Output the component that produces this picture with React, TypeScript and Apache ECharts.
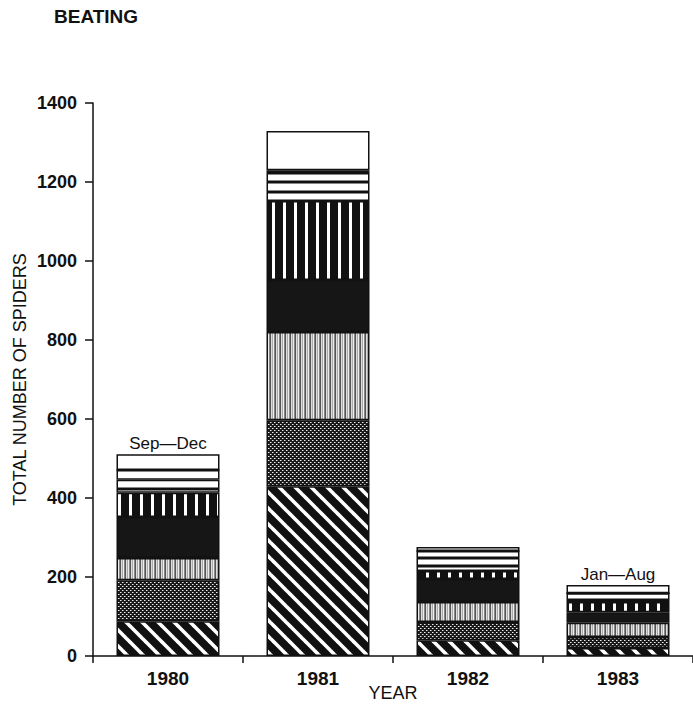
import React, { useEffect, useRef } from "react";
import * as echarts from "echarts";

// ---- data ----
const years = ["1980", "1981", "1982", "1983"];
const periodLabels = ["Sep\u2014Dec", "", "", "Jan\u2014Aug"];
const yTicks = [0, 200, 400, 600, 800, 1000, 1200, 1400];

const groupDiagonal = [88, 430, 40, 20];
const groupDotted = [104, 167, 46, 28];
const groupFineLines = [56, 223, 51, 36];
const groupSolid = [104, 132, 58, 27];
const groupBars = [61, 200, 20, 26];
const groupWhite1 = [10, 23, 13, 5];
const groupWhite2 = [23, 25, 20, 17];
const groupWhite3 = [25, 23, 18, 0];
const groupWhite4 = [0, 7, 0, 0];
const groupWhite5 = [40, 99, 10, 21];

const FONT = "'Liberation Sans', Arial, Helvetica, sans-serif";
const INK = "#111";

function makePattern(w: number, h: number, draw: (ctx: CanvasRenderingContext2D) => void) {
  const c = document.createElement("canvas");
  c.width = w;
  c.height = h;
  const ctx = c.getContext("2d") as CanvasRenderingContext2D;
  draw(ctx);
  return { image: c, repeat: "repeat", imageWidth: w, imageHeight: h } as any;
}

export default function App() {
  const ref = useRef<HTMLDivElement>(null);

  useEffect(() => {
    if (!ref.current) return;
    const chart = echarts.init(ref.current, undefined, { renderer: "svg" });

    const diag = makePattern(16, 16, (ctx) => {
      ctx.fillStyle = INK;
      ctx.fillRect(0, 0, 16, 16);
      ctx.strokeStyle = "#fff";
      ctx.lineWidth = 3.6;
      for (const k of [-16, 0, 16]) {
        ctx.beginPath();
        ctx.moveTo(-4 + k, -4);
        ctx.lineTo(20 + k, 20);
        ctx.stroke();
      }
    });
    const dots = makePattern(4, 4, (ctx) => {
      ctx.fillStyle = "#1a1a1a";
      ctx.fillRect(0, 0, 4, 4);
      ctx.fillStyle = "#eee";
      ctx.fillRect(0, 0, 1, 1);
      ctx.fillRect(2, 2, 1, 1);
      ctx.fillStyle = "#888";
      ctx.fillRect(1, 0, 1, 1);
      ctx.fillRect(3, 2, 1, 1);
    });
    const fine = makePattern(5, 2, (ctx) => {
      const cols = ["#555", "#ddd", "#aaa", "#eee", "#888"];
      cols.forEach((c, i) => {
        ctx.fillStyle = c;
        ctx.fillRect(i, 0, 1, 2);
      });
    });
    const bars = makePattern(11, 4, (ctx) => {
      ctx.fillStyle = INK;
      ctx.fillRect(0, 0, 11, 4);
      ctx.fillStyle = "#fff";
      ctx.fillRect(8, 0, 3, 4);
    });

    const base = (name: string, data: any[], color: any) => ({
      name,
      type: "bar",
      stack: "total",
      barWidth: 103,
      data,
      silent: true,
      itemStyle: { color, borderColor: INK, borderWidth: 1.5 },
      emphasis: { disabled: true },
    });

    const topData = groupWhite5.map((v, i) => ({
      value: v,
      label: {
        show: !!periodLabels[i],
        position: "top",
        distance: 2,
        formatter: periodLabels[i] || "",
        color: INK,
        fontFamily: FONT,
        fontSize: 17,
      },
    }));

    chart.setOption({
      animation: false,
      backgroundColor: "#fff",
      title: {
        text: "BEATING",
        left: 49,
        top: 2,
        textStyle: { fontFamily: FONT, fontSize: 19, fontWeight: "bold", color: INK },
      },
      grid: { left: 93, right: 0, top: 103, bottom: 49, containLabel: false, outerBoundsMode: "none" },
      xAxis: {
        type: "category",
        data: years,
        boundaryGap: true,
        name: "YEAR",
        nameLocation: "middle",
        nameGap: 28,
        nameMoveOverlap: false,
        nameTextStyle: { fontFamily: FONT, fontSize: 18, color: INK, verticalAlign: "top" },
        axisLine: { lineStyle: { color: INK, width: 1.5 } },
        axisTick: { show: true, length: 7, lineStyle: { color: INK, width: 1.5 } },
        axisLabel: { fontFamily: FONT, fontSize: 19, fontWeight: "bold", color: INK, margin: 13 },
        splitLine: { show: false },
      },
      yAxis: {
        type: "value",
        min: yTicks[0],
        max: yTicks[yTicks.length - 1],
        interval: yTicks[1] - yTicks[0],
        name: "TOTAL NUMBER OF SPIDERS",
        nameLocation: "middle",
        nameGap: 64,
        nameMoveOverlap: false,
        nameTextStyle: { fontFamily: FONT, fontSize: 18, color: INK },
        axisLine: { show: true, lineStyle: { color: INK, width: 1.5 } },
        axisTick: { show: true, length: 8, lineStyle: { color: INK, width: 1.5 } },
        axisLabel: {
          fontFamily: FONT,
          fontSize: 18,
          fontWeight: "bold",
          color: INK,
          margin: 16,
          formatter: (v: number) => String(v),
        },
        splitLine: { show: false },
      },
      series: [
        base("Group A", groupDiagonal, diag),
        base("Group B", groupDotted, dots),
        base("Group C", groupFineLines, fine),
        base("Group D", groupSolid, "#161616"),
        base("Group E", groupBars, bars),
        base("Group F", groupWhite1, "#fff"),
        base("Group G", groupWhite2, "#fff"),
        base("Group H", groupWhite3, "#fff"),
        base("Group I", groupWhite4, "#fff"),
        base("Others", topData, "#fff"),
      ],
    });

    return () => chart.dispose();
  }, []);

  return (
    <div
      ref={ref}
      style={{ position: "fixed", left: 0, top: 0, width: 693, height: 705, background: "#fff" }}
    />
  );
}
